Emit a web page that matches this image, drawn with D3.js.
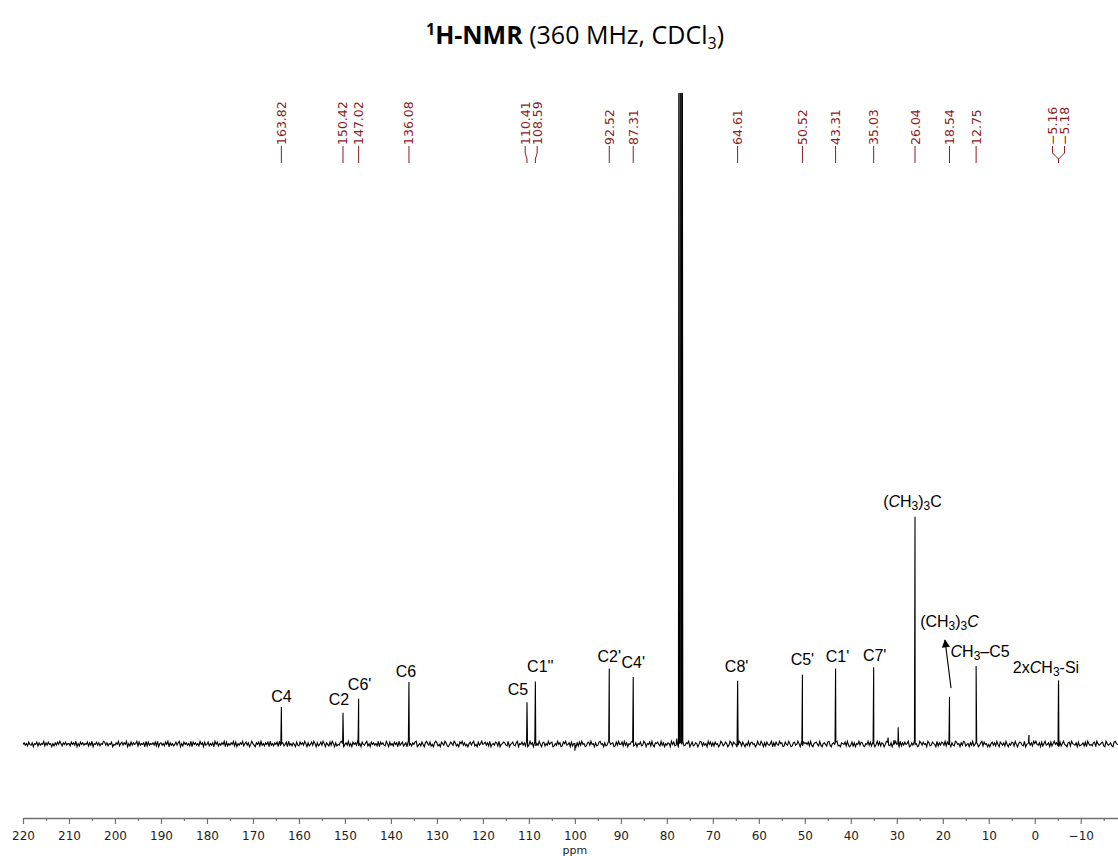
<!DOCTYPE html>
<html>
<head>
<meta charset="utf-8">
<script src="https://cdn.jsdelivr.net/npm/d3@7"></script>
<style>
  body { margin: 0; background: #fff; }
  svg { display: block; }
</style>
</head>
<body>
<svg id="chart"></svg>
<script>
// labelled peaks (ppm) and their heights (arbitrary units, baseline = 0)
const peakPpm    = [163.82, 150.42, 147.02, 136.08, 110.41, 108.59, 92.52, 87.31, 64.61, 50.52, 43.31, 35.03, 26.04, 18.54, 12.75, -5.16, -5.18];
const peakHeight = [5.7, 4.9, 7.2, 9.5, 6.3, 9.7, 11.2, 10.4, 10.0, 10.9, 11.4, 11.7, 34.9, 7.2, 11.7, 10.1, 10.0];

// CDCl3 triplet, runs off the top of the plot
const solventPpm    = [77.36, 77.0, 76.65];
const solventHeight = [150, 160, 150];

// small unlabelled signals (the one at 100 ppm points down)
const minorPpm    = [100.0, 77.85, 31.9, 30.6, 29.7, 1.26];
const minorHeight = [-1.1, 0.8, 0.9, 0.6, 2.6, 1.1];

// baseline noise read as digits 1..8 (4.5 = zero), one every 0.25 ppm from 220 ppm
const noiseStart = 220;
const noiseStep = 0.25;
const noiseDigits = [
  '4635274361547263548263745152637485264735',
  '5274638152746354726381547362548736254714',
  '3648257364815273645827354618273546372815',
  '6352748163524736815274635281746352846173',
  '4725361847253648172536482715364825736148',
  '5316472835264718352647183562471835264173',
  '2746385162473851624738516427385162437851',
  '4638251746382517436825174635281746328517',
  '3527461835724618352647813527416853724168',
  '6241753862147538624175836241573682417358',
  '4573628145376281457632814573268154736281',
  '3846172538416725384671253846127583461725',
  '5162738451267384516237845162378456127384',
  '4728361547823615472386154728316574283615',
  '3651847236158472365814723651487263518472',
  '6274513862475138627541386274153826745138',
  '4385162743581627438561274385126734851627',
  '5647283156742831564278315647823165472831',
  '3726154837621548372651483726514873261548',
  '4518263745812637451286374518623754182637',
  '6382745163287451638724516382475136827451',
  '4157362841753628415376284157632814573628',
  '5843617258346172584631725843167285436172',
  '3462718534267185346721853462178543627185'
];
const noise = noiseDigits.join('').split('').map(c => (+c - 4.5) * 0.12);

// assignments written over the peaks
const annoNames = ['C4', 'C2', "C6'", 'C6', 'C5', "C1''", "C2'", "C4'", "C8'", "C5'", "C1'", "C7'",
  '(<i>C</i>H<sub>3</sub>)<sub>3</sub>C', '(CH<sub>3</sub>)<sub>3</sub><i>C</i>', '<i>C</i>H<sub>3</sub>\u2013C5', '2x<i>C</i>H<sub>3</sub>-Si'];
const annoPpm = [163.82, 150.42, 147.02, 136.08, 110.41, 108.59, 92.52, 87.31, 64.61, 50.52, 43.31, 35.03, 26.04, 18.54, 12.75, -5.16];

const majorTicks = [220, 210, 200, 190, 180, 170, 160, 150, 140, 130, 120, 110, 100, 90, 80, 70, 60, 50, 40, 30, 20, 10, 0, -10];
const minorTicks = [215, 205, 195, 185, 175, 165, 155, 145, 135, 125, 115, 105, 95, 85, 75, 65, 55, 45, 35, 25, 15, 5, -5, -15];

class NmrChart {
    constructor (config) {
        this.config = {
            parent: config.parent,
            width: config.width || 1118,
            height: config.height || 856
        };
        this.init();
    }

    init() {
        let self = this;

        self.svg = d3.select(self.config.parent)
            .attr('width', self.config.width)
            .attr('height', self.config.height);

        self.axisY = 818;
        self.xscale = d3.scaleLinear()
            .domain([220, -18.1])
            .range([23, 1118]);

        self.yscale = d3.scaleLinear()
            .domain([0, 100])
            .range([744, 93]);

        const defs = self.svg.append('defs');
        defs.append('clipPath')
            .attr('id', 'plotclip')
            .append('rect')
            .attr('x', 0).attr('y', 93)
            .attr('width', self.config.width).attr('height', 720);

        defs.append('marker')
            .attr('id', 'arrowhead')
            .attr('viewBox', '0 0 10 10')
            .attr('refX', 9).attr('refY', 5)
            .attr('markerWidth', 10).attr('markerHeight', 8)
            .attr('markerUnits', 'userSpaceOnUse')
            .attr('orient', 'auto')
            .append('path')
            .attr('d', 'M0,0 L10,5 L0,10 z')
            .attr('fill', '#000');
    }

    noiseAt(ppm) {
        const f = (noiseStart - ppm) / noiseStep;
        const i = Math.max(0, Math.min(noise.length - 2, Math.floor(f)));
        const t = f - i;
        return noise[i] * (1 - t) + noise[i + 1] * t;
    }

    render() {
        let self = this;
        self.drawTitle();
        self.drawSpectrum();
        self.drawPeakLabels();
        self.drawAnnotations();
        self.drawAxis();
    }

    drawTitle() {
        let self = this;
        const t = self.svg.append('text')
            .attr('x', 575).attr('y', 44)
            .attr('text-anchor', 'middle')
            .style('font-family', '"Open Sans", "Liberation Sans", sans-serif')
            .style('font-size', '25px')
            .attr('fill', '#000');
        t.append('tspan').attr('font-size', '16px').attr('font-weight', 'bold').attr('dy', -9).text('1');
        t.append('tspan').attr('font-weight', 'bold').attr('dy', 9).text('H-NMR');
        t.append('tspan').text(' (360 MHz, CDCl');
        t.append('tspan').attr('font-size', '16px').attr('dy', 5).text('3');
        t.append('tspan').attr('dy', -5).text(')');
    }

    drawSpectrum() {
        let self = this;
        const pts = noise.map((v, i) => [noiseStart - i * noiseStep, v]);
        const hw = 0.12;
        const addPeak = (p, h) => {
            pts.push([p + hw, self.noiseAt(p + hw)]);
            pts.push([p, h + self.noiseAt(p)]);
            pts.push([p - hw, self.noiseAt(p - hw)]);
        };
        peakPpm.forEach((p, i) => addPeak(p, peakHeight[i]));
        solventPpm.forEach((p, i) => addPeak(p, solventHeight[i]));
        minorPpm.forEach((p, i) => addPeak(p, minorHeight[i]));
        pts.sort((a, b) => b[0] - a[0]);

        const line = d3.line()
            .x(d => self.xscale(d[0]))
            .y(d => self.yscale(d[1]));

        self.svg.append('path')
            .datum(pts)
            .attr('clip-path', 'url(#plotclip)')
            .attr('d', line)
            .attr('fill', 'none')
            .attr('stroke', '#000')
            .attr('stroke-width', 1.1)
            .attr('stroke-linejoin', 'miter');
    }

    drawPeakLabels() {
        let self = this;
        const color = '#8b1c1c';
        const spacing = 12;
        const bottom = 163, bend1 = 159, bend2 = 153, textY = 146;

        // spread labels whose peaks sit closer than the label spacing
        const items = peakPpm.map(p => ({ppm: p, px: self.xscale(p)}));
        items.sort((a, b) => a.px - b.px);
        let groups = [];
        items.forEach(d => {
            const g = groups[groups.length - 1];
            if (g && d.px - g[g.length - 1].px < spacing) g.push(d);
            else groups.push([d]);
        });
        groups.forEach(g => {
            const c = d3.mean(g, d => d.px);
            g.forEach((d, k) => { d.lx = g.length > 1 ? c + (k - (g.length - 1) / 2) * spacing : d.px; });
        });

        const lab = self.svg.append('g');
        lab.selectAll('path')
            .data(items)
            .join('path')
            .attr('d', d => `M${d.px},${bottom} L${d.px},${bend1} L${d.lx},${bend2} L${d.lx},${textY}`)
            .attr('fill', 'none')
            .attr('stroke', color)
            .attr('stroke-width', 1);

        lab.selectAll('text')
            .data(items)
            .join('text')
            .attr('transform', d => `translate(${d.lx},${textY - 1}) rotate(-90)`)
            .attr('dy', '0.36em')
            .style('font-family', '"DejaVu Sans", sans-serif')
            .style('font-size', '12.5px')
            .attr('fill', color)
            .text(d => d3.format('.2f')(d.ppm));
    }

    drawAnnotations() {
        let self = this;
        // [dx, gap above peak top] for each annotation
        const shift = [[0, 5], [-4, 7], [1, 7], [-3, 5], [-9, 8], [5, 9], [0, 9], [0, 8],
                       [-1, 7], [0, 8], [2, 8], [1, 7], [-2.5, 10], [0, 70], [4, 11], [-12.5, 5]];

        const g = self.svg.append('g')
            .style('font-family', '"Liberation Sans", Arial, sans-serif')
            .style('font-size', '16px')
            .attr('fill', '#000');

        annoNames.forEach((name, i) => {
            const p = annoPpm[i];
            const h = peakHeight[peakPpm.indexOf(p)];
            const x = self.xscale(p) + shift[i][0];
            const y = self.yscale(h) - shift[i][1];
            const t = g.append('text')
                .attr('x', x).attr('y', y)
                .attr('text-anchor', 'middle');
            const parts = name.split(/(<i>.*?<\/i>|<sub>.*?<\/sub>)/).filter(s => s.length);
            let lowered = false;
            parts.forEach(s => {
                const ts = t.append('tspan');
                if (s.startsWith('<sub>')) {
                    ts.attr('font-size', '12px').attr('dy', lowered ? 0 : 3).text(s.slice(5, -6));
                    lowered = true;
                } else {
                    if (lowered) { ts.attr('dy', -3); lowered = false; }
                    if (s.startsWith('<i>')) ts.attr('font-style', 'italic').text(s.slice(3, -4));
                    else ts.text(s);
                }
            });
        });

        // arrow from the quaternary carbon peak up to its label
        const px = self.xscale(18.54);
        const top = self.yscale(peakHeight[peakPpm.indexOf(18.54)]);
        self.svg.append('line')
            .attr('x1', px + 1.5).attr('y1', top - 9)
            .attr('x2', px - 4.5).attr('y2', top - 57)
            .attr('stroke', '#000')
            .attr('stroke-width', 1.1)
            .attr('marker-end', 'url(#arrowhead)');
    }

    drawAxis() {
        let self = this;
        const axisColor = '#707070';

        const xaxis = d3.axisBottom(self.xscale)
            .tickValues(majorTicks)
            .tickSize(6)
            .tickSizeOuter(0)
            .tickPadding(7);

        const minor = d3.axisBottom(self.xscale)
            .tickValues(minorTicks)
            .tickSize(3)
            .tickSizeOuter(0)
            .tickFormat('');

        const ag = self.svg.append('g')
            .attr('transform', `translate(0, ${self.axisY})`)
            .call(xaxis);
        ag.select('.domain').attr('stroke', axisColor).attr('stroke-width', 1.6);
        ag.selectAll('.tick line').attr('stroke', axisColor).attr('stroke-width', 1.2);
        ag.selectAll('.tick text')
            .attr('fill', '#222')
            .style('font-family', '"DejaVu Sans", sans-serif')
            .style('font-size', '12px');

        const mg = self.svg.append('g')
            .attr('transform', `translate(0, ${self.axisY})`)
            .call(minor);
        mg.select('.domain').remove();
        mg.selectAll('.tick line').attr('stroke', axisColor).attr('stroke-width', 1.2);

        self.svg.append('text')
            .attr('x', self.xscale(100))
            .attr('y', 854)
            .attr('text-anchor', 'middle')
            .style('font-family', '"DejaVu Sans", sans-serif')
            .style('font-size', '11px')
            .attr('fill', '#222')
            .text('ppm');
    }
}

const chart = new NmrChart({parent: '#chart', width: 1118, height: 856});
chart.render();
</script>
</body>
</html>
